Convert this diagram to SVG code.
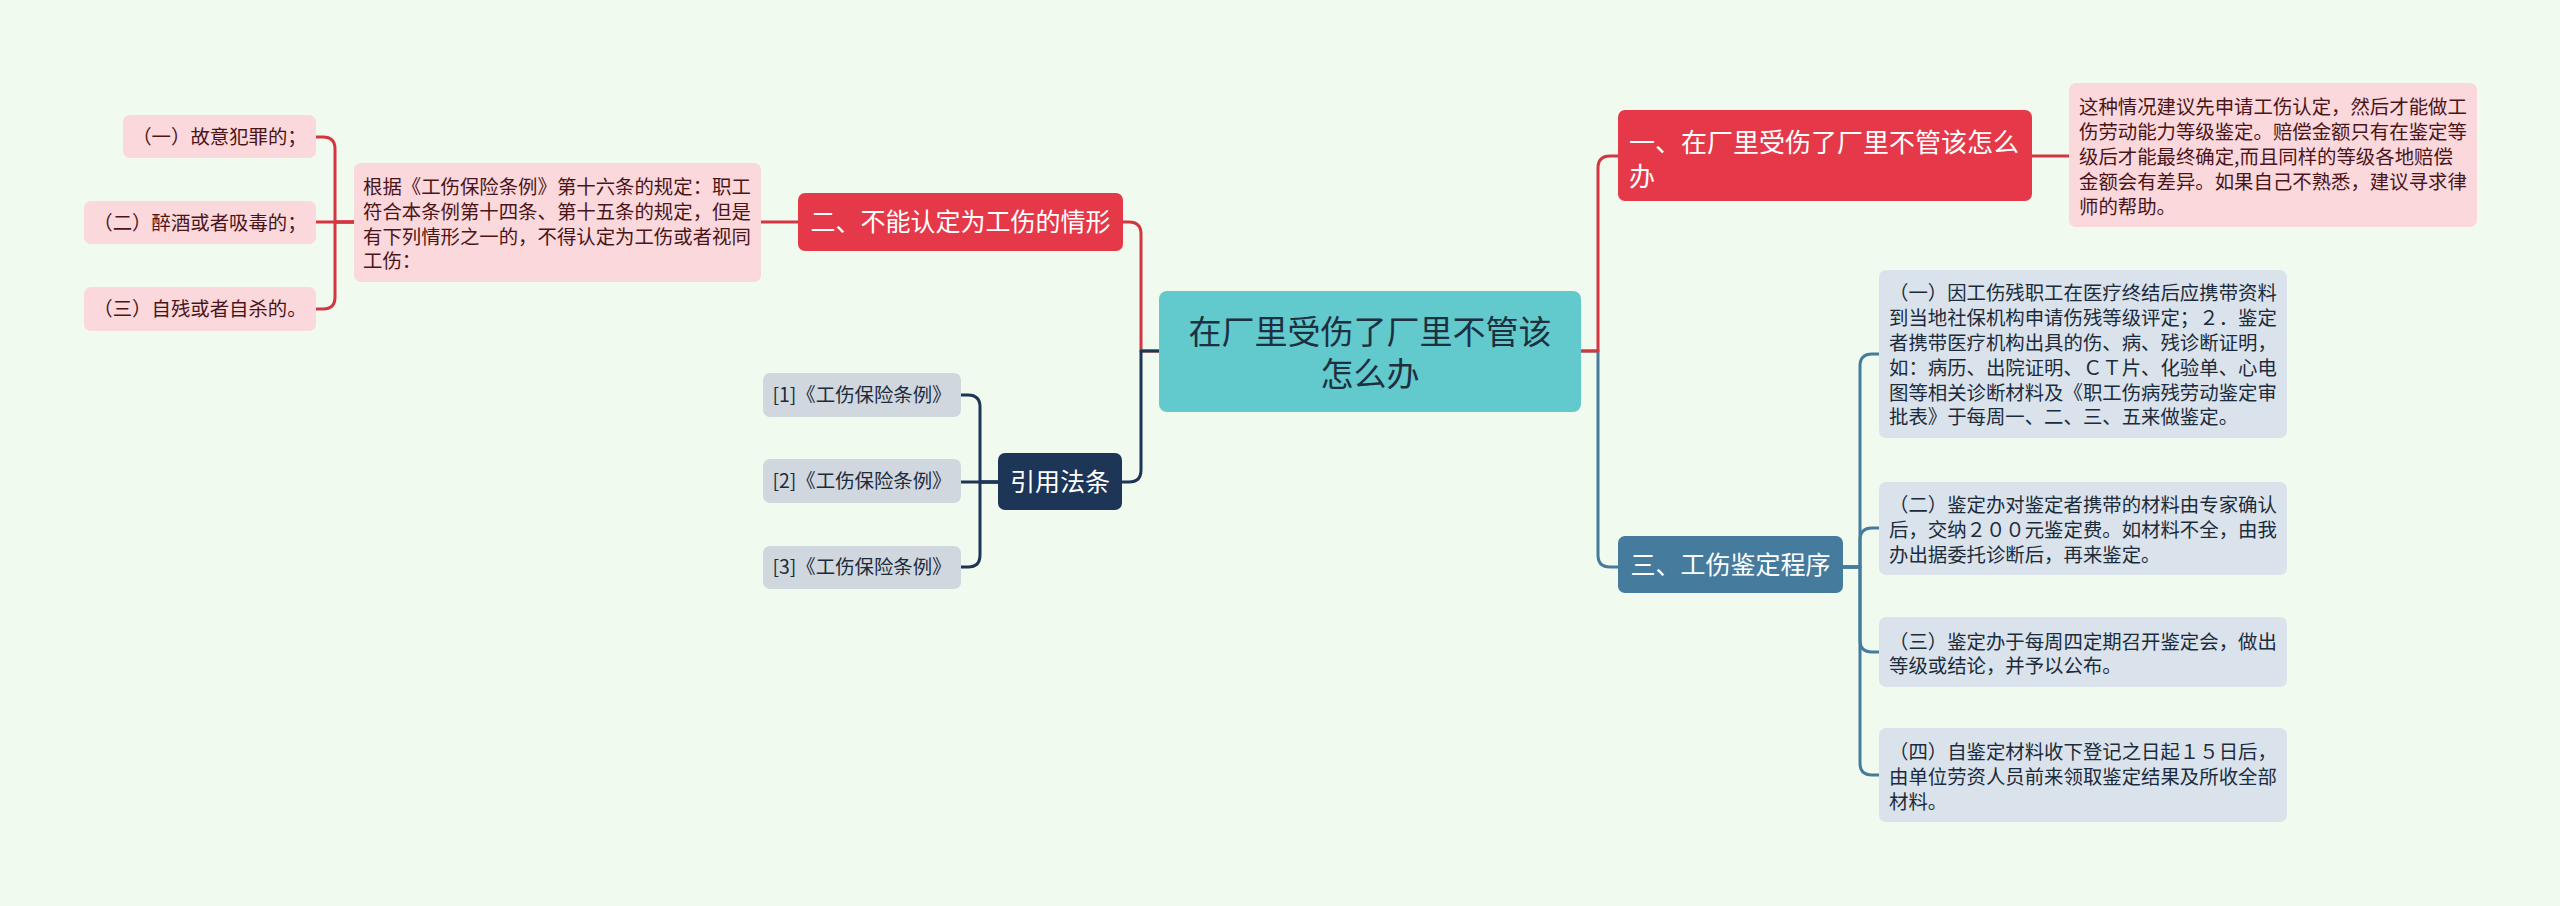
<svg xmlns="http://www.w3.org/2000/svg" width="2560" height="906" viewBox="0 0 2560 906">
<style>
text{font-family:"Noto Sans CJK SC","Noto Sans",sans-serif}
.s{font-size:19.4px}
.pk{fill:#fad8dc}
.pkt{fill:#4a1519}
.gy{fill:#d1d7df}
.lb{fill:#dae3eb}
.dt{fill:#1c2b3b}
.wt{fill:#ffffff}
.red{fill:#e5394a}
.c{text-anchor:middle}
.ln{fill:none;stroke-width:3;stroke-linecap:round;stroke-linejoin:round}
.lr{stroke:#d33641}
.ln2{stroke:#1d3557}
.lbl{stroke:#457b9d}
</style>
<rect width="2560" height="906" fill="#f1faee"/>
<g id="connectors">
<path class="ln lr" d="M1123,222 H1129 Q1141,222 1141,234 V351 H1159"/>
<path class="ln ln2" d="M1122,482 H1129 Q1141,482 1141,470 V351 H1159"/>
<path class="ln lbl" d="M1581,351 H1598 V555 Q1598,567 1610,567 H1618"/>
<path class="ln lr" d="M1581,351 H1598 V168 Q1598,156 1610,156 H1618"/>
<path class="ln lr" d="M2032,156 H2069"/>
<path class="ln lr" d="M798,222 H761"/>
<path class="ln lr" d="M354,222 H316"/>
<path class="ln lr" d="M354,222 H335 V149 Q335,137 323,137 H316"/>
<path class="ln lr" d="M354,222 H335 V297 Q335,309 323,309 H316"/>
<path class="ln ln2" d="M998,482 H961"/>
<path class="ln ln2" d="M998,482 H980 V407 Q980,395 968,395 H961"/>
<path class="ln ln2" d="M998,482 H980 V555 Q980,567 968,567 H961"/>
<path class="ln lbl" d="M1843,567 H1860 V366 Q1860,354 1872,354 H1879"/>
<path class="ln lbl" d="M1843,567 H1860 V540 Q1860,528 1872,528 H1879"/>
<path class="ln lbl" d="M1843,567 H1860 V640 Q1860,652 1872,652 H1879"/>
<path class="ln lbl" d="M1843,567 H1860 V763 Q1860,775 1872,775 H1879"/>
</g>
<g id="center">
<rect x="1159" y="291" width="422" height="121" rx="8" fill="#62c9cd"/>
<text class="c" x="1370" y="344" font-size="33" fill="#1d3040">在厂里受伤了厂里不管该</text>
<text class="c" x="1370" y="386" font-size="33" fill="#1d3040">怎么办</text>
</g>
<g id="n1">
<rect x="1618" y="110" width="414" height="91" rx="7" class="red"/>
<text x="1629" y="152" font-size="26" class="wt">一、在厂里受伤了厂里不管该怎么</text>
<text x="1629" y="186" font-size="26" class="wt">办</text>
</g>
<g id="n1a">
<rect x="2069" y="83" width="408" height="144" rx="7" class="pk"/>
<text class="s pkt" x="2079" y="114">这种情况建议先申请工伤认定，然后才能做工</text>
<text class="s pkt" x="2079" y="139">伤劳动能力等级鉴定。赔偿金额只有在鉴定等</text>
<text class="s pkt" x="2079" y="164">级后才能最终确定,而且同样的等级各地赔偿</text>
<text class="s pkt" x="2079" y="189">金额会有差异。如果自己不熟悉，建议寻求律</text>
<text class="s pkt" x="2079" y="214">师的帮助。</text>
</g>
<g id="n2">
<rect x="798" y="193" width="325" height="58" rx="7" class="red"/>
<text class="c wt" x="960.5" y="231" font-size="25">二、不能认定为工伤的情形</text>
</g>
<g id="n2a">
<rect x="354" y="163" width="407" height="119" rx="7" class="pk"/>
<text class="s pkt" x="363" y="194">根据《工伤保险条例》第十六条的规定：职工</text>
<text class="s pkt" x="363" y="219">符合本条例第十四条、第十五条的规定，但是</text>
<text class="s pkt" x="363" y="244">有下列情形之一的，不得认定为工伤或者视同</text>
<text class="s pkt" x="363" y="268">工伤：</text>
</g>
<g id="n2a1">
<rect x="123" y="115" width="193" height="43" rx="7" class="pk"/>
<text class="s pkt c" x="219.5" y="144">（一）故意犯罪的；</text>
</g>
<g id="n2a2">
<rect x="84" y="201" width="232" height="43" rx="7" class="pk"/>
<text class="s pkt c" x="200" y="230">（二）醉酒或者吸毒的；</text>
</g>
<g id="n2a3">
<rect x="84" y="287" width="232" height="44" rx="7" class="pk"/>
<text class="s pkt c" x="200" y="316">（三）自残或者自杀的。</text>
</g>
<g id="nref">
<rect x="998" y="453" width="124" height="57" rx="7" fill="#1d3557"/>
<text class="c wt" x="1060" y="491" font-size="25">引用法条</text>
</g>
<g id="ref1">
<rect x="763" y="373" width="198" height="44" rx="7" class="gy"/>
<text class="s dt c" x="862" y="402">[1]《工伤保险条例》</text>
</g>
<g id="ref2">
<rect x="763" y="459" width="198" height="44" rx="7" class="gy"/>
<text class="s dt c" x="862" y="488">[2]《工伤保险条例》</text>
</g>
<g id="ref3">
<rect x="763" y="546" width="198" height="43" rx="7" class="gy"/>
<text class="s dt c" x="862" y="574">[3]《工伤保险条例》</text>
</g>
<g id="n3">
<rect x="1618" y="536" width="225" height="57" rx="7" fill="#457b9d"/>
<text class="c wt" x="1730.5" y="574" font-size="25">三、工伤鉴定程序</text>
</g>
<g id="n3a">
<rect x="1879" y="270" width="408" height="168" rx="7" class="lb"/>
<text class="s dt" x="1889" y="300">（一）因工伤残职工在医疗终结后应携带资料</text>
<text class="s dt" x="1889" y="325">到当地社保机构申请伤残等级评定；２．鉴定</text>
<text class="s dt" x="1889" y="350">者携带医疗机构出具的伤、病、残诊断证明，</text>
<text class="s dt" x="1889" y="375">如：病历、出院证明、ＣＴ片、化验单、心电</text>
<text class="s dt" x="1889" y="400">图等相关诊断材料及《职工伤病残劳动鉴定审</text>
<text class="s dt" x="1889" y="424">批表》于每周一、二、三、五来做鉴定。</text>
</g>
<g id="n3b">
<rect x="1879" y="482" width="408" height="93" rx="7" class="lb"/>
<text class="s dt" x="1889" y="512">（二）鉴定办对鉴定者携带的材料由专家确认</text>
<text class="s dt" x="1889" y="537">后，交纳２００元鉴定费。如材料不全，由我</text>
<text class="s dt" x="1889" y="562">办出据委托诊断后，再来鉴定。</text>
</g>
<g id="n3c">
<rect x="1879" y="617" width="408" height="70" rx="7" class="lb"/>
<text class="s dt" x="1889" y="649">（三）鉴定办于每周四定期召开鉴定会，做出</text>
<text class="s dt" x="1889" y="673">等级或结论，并予以公布。</text>
</g>
<g id="n3d">
<rect x="1879" y="728" width="408" height="94" rx="7" class="lb"/>
<text class="s dt" x="1889" y="759">（四）自鉴定材料收下登记之日起１５日后，</text>
<text class="s dt" x="1889" y="784">由单位劳资人员前来领取鉴定结果及所收全部</text>
<text class="s dt" x="1889" y="809">材料。</text>
</g>
</svg>
